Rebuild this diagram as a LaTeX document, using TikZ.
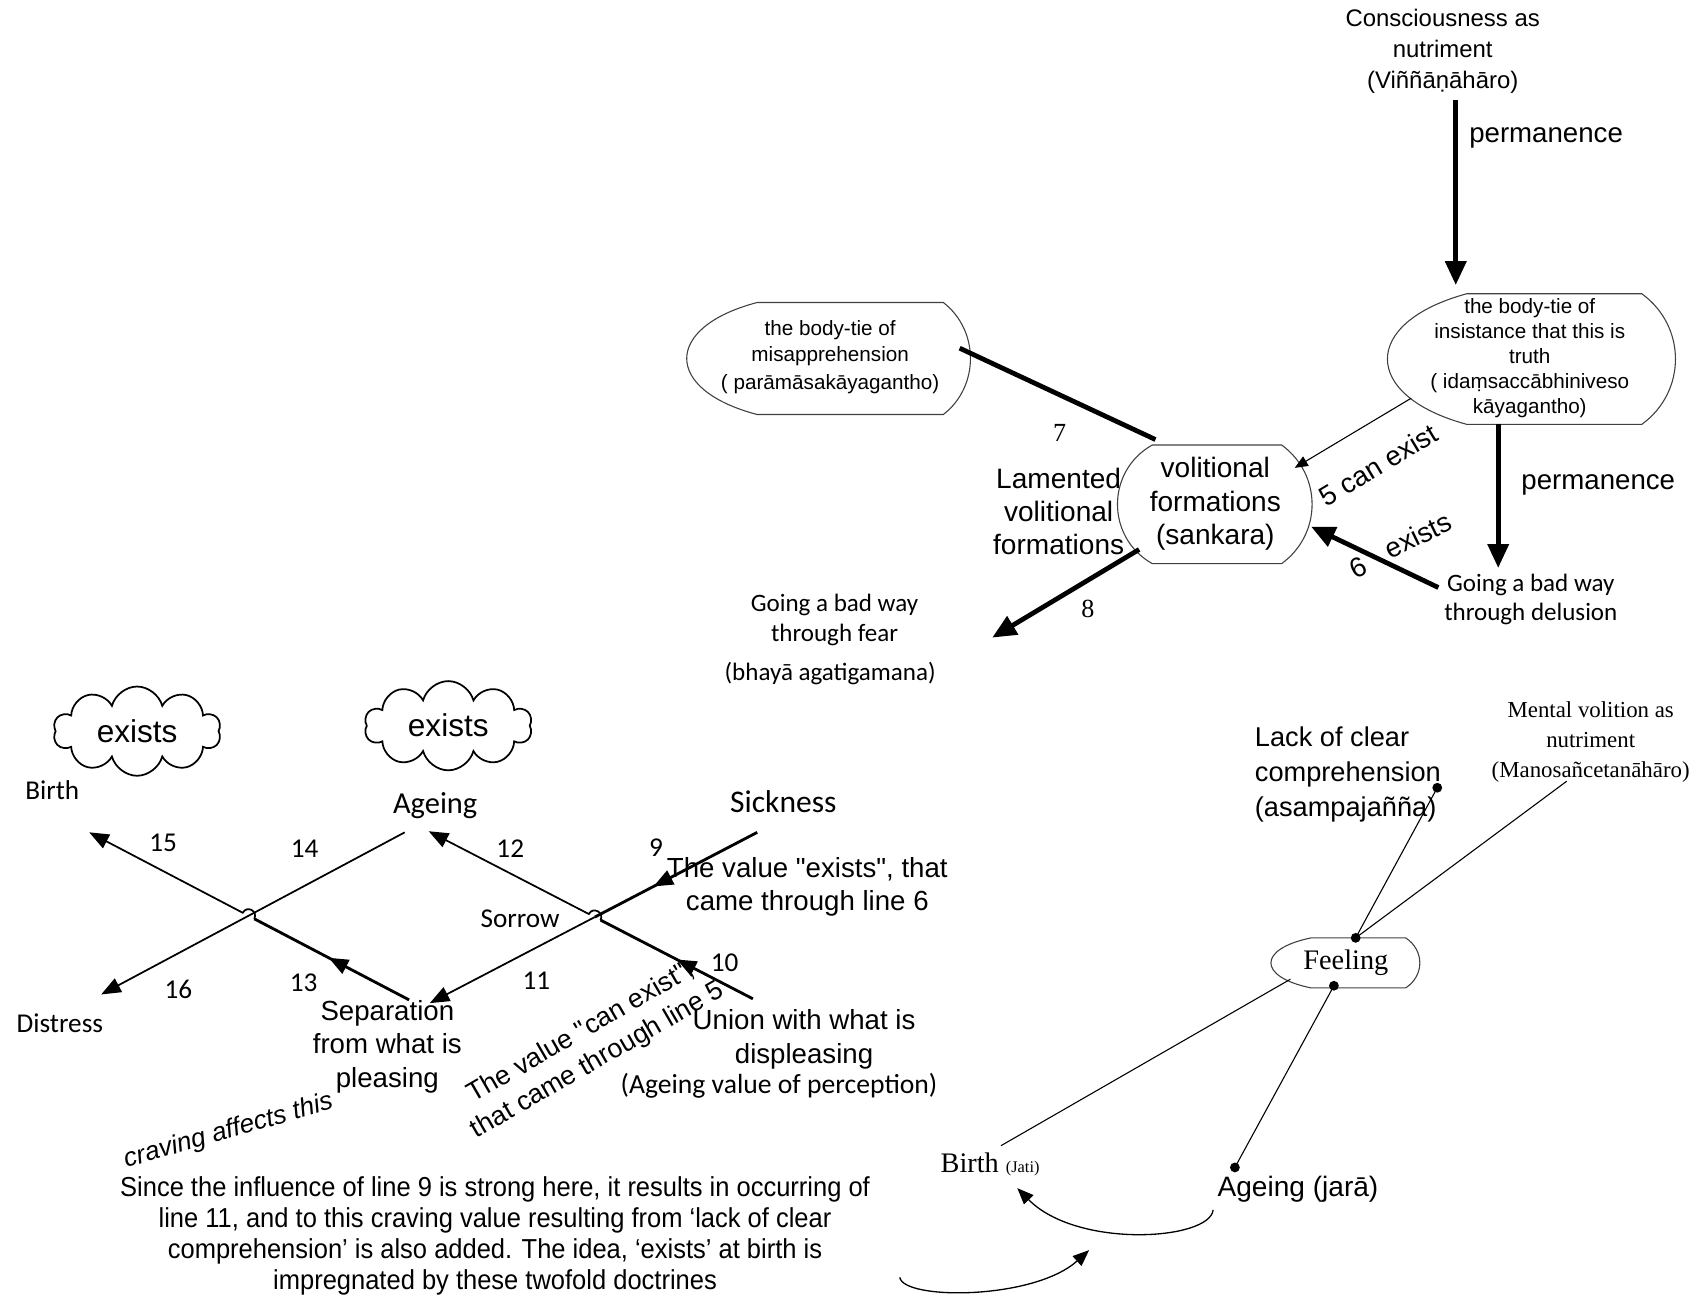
\documentclass[tikz,border=0pt]{standalone}
\usepackage{fontspec}
\setmainfont{Liberation Sans}[Ligatures=TeXOff]
\newfontfamily\calfont{Carlito}
\newfontfamily\romfont{Liberation Serif}
\newfontfamily\narrowfont[FakeStretch=0.93]{Liberation Sans}
\usetikzlibrary{arrows.meta,shapes.symbols,decorations.markings,calc}
\newcommand{\fsz}[2]{\fontsize{#1}{#2}\selectfont}
% outline of a display box: x1 x2 top bottom left-tip right-tip
\newcommand{\dispshape}[6]{%
  \draw[shapeline] (#1,#3) -- (#2,#3)
    .. controls ({#2+1.33*(#6-#2)},{#3+0.25*(#4-#3)}) and ({#2+1.33*(#6-#2)},{#4-0.25*(#4-#3)}) .. (#2,#4)
    -- (#1,#4)
    .. controls ({#1-1.33*(#1-#5)},{#4-0.22*(#4-#3)}) and ({#1-1.33*(#1-#5)},{#3+0.22*(#4-#3)}) .. cycle;}
\tikzset{midarrow/.style={postaction={decorate},
  decoration={markings, mark=at position #1 with {\arrow{Triangle[length=9pt,width=7pt]}}}}}
\begin{document}
\begin{tikzpicture}[x=0.5pt,y=-0.5pt]
\tikzstyle{every node}+=[inner sep=0pt, align=center]
\tikzstyle{shapeline}=[black!75, line width=0.5pt]
\tikzstyle{bigline}=[line width=2.2pt]
\tikzstyle{bigarrow}=[line width=2.2pt, -{Triangle[length=11pt,width=9.5pt]}]
\tikzstyle{thinarrow}=[line width=0.5pt, -{Triangle[length=6pt,width=5pt]}]
\tikzstyle{crossarrow}=[line width=0.8pt, -{Triangle[length=9pt,width=7pt]}]
\tikzstyle{heavyline}=[line width=1.3pt]
\tikzstyle{tieline}=[line width=0.5pt]
\tikzstyle{curvearrow}=[line width=0.6pt, -{Triangle[length=7.5pt,width=6pt]}]
\tikzstyle{tiedot}=[circle, fill, inner sep=0pt, minimum size=4.5pt]
\tikzstyle{arial}=[font=\fsz{12.7}{15.5}]
\tikzstyle{small}=[font=\fsz{9.5}{11.5}]
\tikzstyle{cal}=[font=\calfont\fsz{12.5}{14}]
\tikzstyle{rom}=[font=\romfont\fsz{12}{14}]
\tikzstyle{puff}=[cloud, cloud puffs=10, aspect=1.9, draw, line width=0.8pt, minimum width=77pt, minimum height=41pt, font=\fsz{14.5}{17}]
\useasboundingbox (0,0) rectangle (1568,1205);

% nutriment, insistance, sankara
\node[font=\fsz{11}{14.25}] (nutri) at (1326,47) {Consciousness as\\nutriment\\(Viññāṇāhāro)};
\coordinate (nutriout) at (1338,92);
\coordinate (insistin) at (1338,262);
\draw[bigarrow] (nutriout) -- (insistin);
\node[arial] (perma) at (1421,127) {permanence};

\dispshape{1348}{1509}{270}{390}{1275}{1540}
\node[small] (insist) at (1406,329) {the body-tie of\\insistance that this is\\truth\\( idaṃsaccābhiniveso\\kāyagantho)};

\dispshape{696}{867}{278}{381}{631}{892}
\node[font=\fsz{9.5}{12}] (misap) at (763,328) {the body-tie of\\misapprehension\\[1pt]( parāmāsakāyagantho)};

\dispshape{1059}{1178}{409}{518}{1027}{1206}
\node[font=\fsz{12.9}{15.25}] (sankara) at (1117,463) {volitional\\formations\\(sankara)};
\node[font=\fsz{12.9}{15.25}] (lament) at (973,470) {Lamented\\volitional\\formations};
\node[rom] (seven) at (974,398) {7};
\node[rom] (eight) at (1000,560) {8};

\coordinate (misapout) at (882,320);
\coordinate (sankarain7) at (1062,404);
\draw[bigline] (misapout) -- (sankarain7);
\coordinate (sankaraout) at (1047,505);
\coordinate (feartip) at (912,586);
\draw[bigarrow] (sankaraout) -- (feartip);
\node[font=\calfont\fsz{11.5}{14}] (fear) at (767,570) {Going a bad way\\through fear};
\node[font=\calfont\fsz{11.5}{14}] (fearpali) at (763,619) {(bhayā agatigamana)};

\coordinate (insistout5) at (1297,366);
\coordinate (sankarain5) at (1190,430);
\draw[thinarrow] (insistout5) -- (sankarain5);
\node[arial, rotate=31] (canexist) at (1267,427) {5 can exist};

\coordinate (insistout) at (1377,390);
\coordinate (delusionin) at (1377,522);
\draw[bigarrow] (insistout) -- (delusionin);
\node[arial] (permb) at (1469,446) {permanence};
\node[font=\calfont\fsz{11.5}{13.5}] (delusion) at (1407,551) {Going a bad way\\through delusion};
\coordinate (delusionout) at (1322,540);
\coordinate (sankarain6) at (1205,484);
\draw[bigarrow] (delusionout) -- (sankarain6);
\node[arial, rotate=26] (exists6) at (1303,492) {exists};
\node[arial, rotate=26] (six) at (1248,522) {6};

% birth, ageing, sorrow
\node[puff] (existsa) at (126,672) {exists};
\node[puff] (existsb) at (412,667) {exists};
\node[cal] (birth) at (48,726) {Birth};
\node[font=\calfont\fsz{14}{16}] (ageing) at (400,740) {Ageing};
\node[font=\calfont\fsz{14.5}{16}] (sickness) at (720,737) {Sickness};
\node[cal] (distress) at (55,940) {Distress};
\node[cal] (sorrow) at (478,844) {Sorrow};
\foreach \n/\x/\y in {15/150/775, 14/280/780, 16/164/909, 13/279/903, 12/469/780, 9/603/779, 10/666/885, 11/493/901}
  \node[cal] (n\n) at (\x,\y) {\n};

\coordinate (birthtip) at (82,765);
\coordinate (distresstip) at (93,914);
\coordinate (ageingout) at (372,765);
\coordinate (septop) at (376,919);
\coordinate (septip) at (395,922);
\coordinate (ageingtip) at (394,764);
\coordinate (sicknessout) at (696,765);
\coordinate (unionout) at (692,918);
\draw[crossarrow] (ageingout) -- (distresstip);
\coordinate (hopa1) at ($(septop)!0.484!(birthtip)$);
\coordinate (hopa2) at ($(septop)!0.520!(birthtip)$);
\draw[heavyline, midarrow=0.52] (septop) -- (hopa1);
\draw[crossarrow] (hopa1) .. controls +(3.7,-7.1) and +(3.7,-7.1) .. (hopa2) -- (birthtip);
\coordinate (sorrowx) at ($(sicknessout)!0.496!(septip)$);
\draw[heavyline, midarrow=0.64] (sicknessout) -- (sorrowx);
\draw[crossarrow] (sorrowx) -- (septip);
\coordinate (hopb1) at ($(unionout)!0.470!(ageingtip)$);
\coordinate (hopb2) at ($(unionout)!0.506!(ageingtip)$);
\draw[heavyline, midarrow=0.5] (unionout) -- (hopb1);
\draw[crossarrow] (hopb1) .. controls +(3.7,-7.1) and +(3.7,-7.1) .. (hopb2) -- (ageingtip);

\node[arial] (valueexists) at (742,815) {The value "exists", that\\came through line 6};
\node[arial] (separation) at (356,962) {Separation\\from what is\\pleasing};
\node[arial] (union) at (739,955) {Union with what is\\displeasing};
\node[font=\calfont\fsz{12.7}{15}] (agevalue) at (716,998) {(Ageing value of perception)};
\node[font=\fsz{12.3}{15}, rotate=30] (canexistnote) at (542,962) {The value "can exist",\\that came through line 5};
\node[font=\itshape\fsz{12}{14}, rotate=16] (craving) at (210,1040) {craving affects this};
\node[font=\narrowfont\fsz{12.6}{14.35}] (note) at (455,1136) {Since the influence of line 9 is strong here, it results in occurring of\\line 11, and to this craving value resulting from ‘lack of clear\\comprehension’ is also added. The idea, ‘exists’ at birth is\\impregnated by these twofold doctrines};

% feeling
\node[font=\fsz{12.5}{16}, align=left, anchor=west] (lack) at (1153,712) {Lack of clear\\comprehension\\(asampajañña)};
\node[font=\romfont\fsz{10.5}{13.75}] (mental) at (1462,682) {Mental volition as\\nutriment\\(Manosañcetanāhāro)};
\dispshape{1205}{1292}{862}{908}{1168}{1305}
\node[font=\romfont\fsz{13}{15}] (feeling) at (1237,885) {Feeling};
\node[font=\romfont\fsz{13}{15}] (birthj) at (910,1070) {Birth {\fsz{7.5}{9}(Jati)}};
\node[font=\fsz{12.9}{15}] (ageingj) at (1193,1093) {Ageing (jarā)};

\node[tiedot] (lackpt) at (1321,724) {};
\node[tiedot] (feeltop) at (1246,862) {};
\node[tiedot] (feelbot) at (1226,906) {};
\node[tiedot] (agejpt) at (1135,1073) {};
\coordinate (mentalpt) at (1440,718);
\coordinate (feelleft) at (1186,900);
\coordinate (birthjpt) at (920,1053);
\draw[tieline] (lackpt.center) -- (feeltop.center);
\draw[tieline] (mentalpt) -- (feeltop.center);
\draw[tieline] (feelleft) -- (birthjpt);
\draw[tieline] (feelbot.center) -- (agejpt.center);

\coordinate (ageingjout) at (1115,1112);
\coordinate (birthjin) at (935,1092);
\draw[curvearrow] (ageingjout) .. controls (1112,1140) and (990,1148) .. (birthjin);
\coordinate (loopstart) at (827,1174);
\coordinate (looptip) at (1001,1149);
\draw[curvearrow] (loopstart) .. controls (830,1195) and (950,1195) .. (looptip);
\end{tikzpicture}
\end{document}
